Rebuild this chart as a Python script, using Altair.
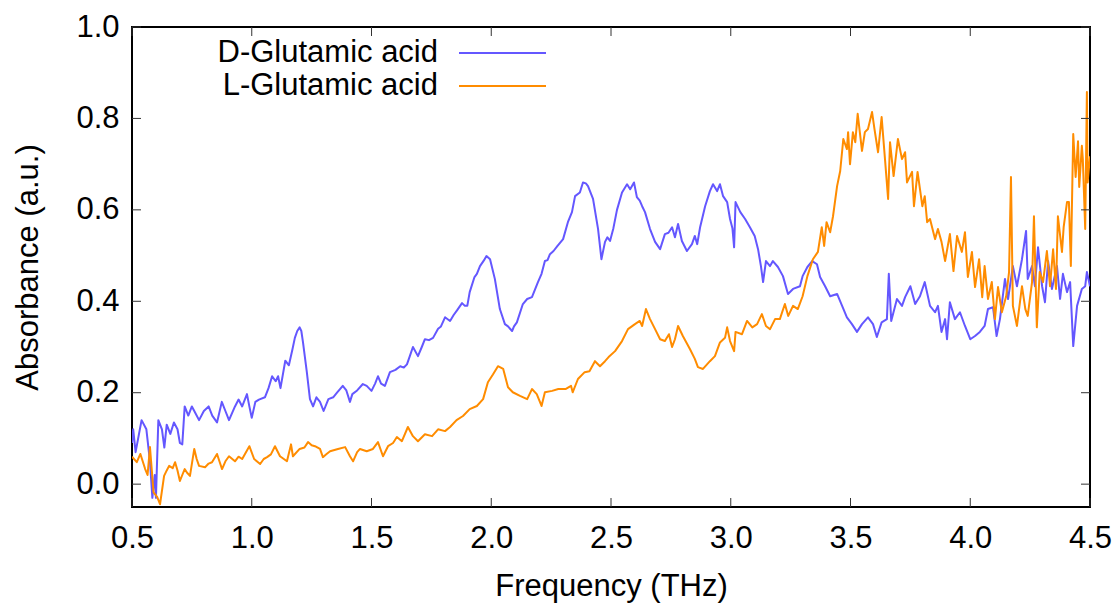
import altair as alt
import pandas as pd

# D-Glutamic acid absorbance spectrum
d_freq = [0.50, 0.505, 0.515, 0.54, 0.56, 0.575, 0.585, 0.595, 0.60, 0.61, 0.625, 0.635, 0.645, 0.66,
          0.675, 0.69, 0.70, 0.71, 0.72, 0.735, 0.75, 0.765, 0.78, 0.80, 0.82, 0.835, 0.855, 0.875, 0.89,
          0.905, 0.93, 0.945, 0.96, 0.98, 0.99, 1.00, 1.015, 1.03, 1.055, 1.07, 1.085, 1.10, 1.11, 1.12,
          1.14, 1.155, 1.17, 1.18, 1.19, 1.20, 1.207, 1.214, 1.23, 1.243, 1.256, 1.27, 1.285, 1.30, 1.32,
          1.34, 1.356, 1.38, 1.395, 1.41, 1.42, 1.44, 1.464, 1.48, 1.50, 1.515, 1.527, 1.54, 1.556, 1.577,
          1.60, 1.62, 1.635, 1.648, 1.66, 1.673, 1.694, 1.71, 1.723, 1.74, 1.757, 1.778, 1.79, 1.807,
          1.828, 1.843, 1.857, 1.878, 1.89, 1.90, 1.91, 1.93, 1.94, 1.953, 1.97, 1.98, 1.995, 2.015,
          2.036, 2.057, 2.07, 2.087, 2.095, 2.107, 2.132, 2.15, 2.17, 2.195, 2.21, 2.224, 2.235, 2.245,
          2.26, 2.275, 2.30, 2.32, 2.337, 2.35, 2.37, 2.383, 2.395, 2.404, 2.425, 2.446, 2.46, 2.475,
          2.485, 2.496, 2.51, 2.525, 2.546, 2.567, 2.58, 2.596, 2.608, 2.62, 2.63, 2.642, 2.663, 2.684,
          2.705, 2.725, 2.74, 2.755, 2.767, 2.78, 2.796, 2.817, 2.838, 2.85, 2.86, 2.872, 2.893, 2.913,
          2.926, 2.943, 2.955, 2.968, 2.985, 2.997, 3.007, 3.014, 3.02, 3.04, 3.06, 3.08, 3.10, 3.114,
          3.126, 3.135, 3.147, 3.164, 3.176, 3.197, 3.218, 3.239, 3.26, 3.289, 3.30, 3.32, 3.34, 3.36,
          3.373, 3.394, 3.415, 3.444, 3.465, 3.485, 3.506, 3.527, 3.548, 3.573, 3.594, 3.61, 3.63, 3.652,
          3.66, 3.67, 3.694, 3.715, 3.728, 3.75, 3.77, 3.79, 3.81, 3.832, 3.853, 3.865, 3.88, 3.895,
          3.903, 3.915, 3.936, 3.957, 3.978, 4.00, 4.02, 4.04, 4.06, 4.074, 4.095, 4.11, 4.124, 4.145,
          4.158, 4.178, 4.195, 4.216, 4.233, 4.24, 4.258, 4.27, 4.283, 4.30, 4.312, 4.325, 4.341, 4.362,
          4.375, 4.387, 4.404, 4.417, 4.43, 4.446, 4.466, 4.48, 4.487, 4.50]
d_abs = [0.09, 0.12, 0.07, 0.14, 0.12, 0.05, -0.03, 0.02, -0.03, 0.14, 0.12, 0.08, 0.13, 0.11,
         0.135, 0.12, 0.09, 0.087, 0.17, 0.15, 0.17, 0.155, 0.14, 0.16, 0.17, 0.15, 0.135, 0.18, 0.16,
         0.14, 0.17, 0.185, 0.17, 0.197, 0.17, 0.145, 0.18, 0.185, 0.19, 0.21, 0.236, 0.225, 0.236, 0.21,
         0.27, 0.26, 0.295, 0.32, 0.335, 0.343, 0.335, 0.31, 0.245, 0.186, 0.17, 0.19, 0.18, 0.16, 0.186,
         0.19, 0.20, 0.215, 0.205, 0.18, 0.197, 0.205, 0.219, 0.215, 0.204, 0.22, 0.236, 0.22, 0.215, 0.245,
         0.25, 0.258, 0.255, 0.262, 0.28, 0.30, 0.28, 0.30, 0.317, 0.315, 0.32, 0.34, 0.345, 0.365,
         0.357, 0.37, 0.38, 0.396, 0.39, 0.39, 0.42, 0.453, 0.46, 0.477, 0.49, 0.499, 0.492, 0.449,
         0.383, 0.35, 0.345, 0.335, 0.345, 0.354, 0.394, 0.405, 0.409, 0.442, 0.46, 0.488, 0.49, 0.503,
         0.51, 0.52, 0.536, 0.573, 0.595, 0.63, 0.638, 0.66, 0.658, 0.652, 0.624, 0.558, 0.492, 0.53,
         0.54, 0.532, 0.56, 0.60, 0.638, 0.656, 0.645, 0.66, 0.628, 0.62, 0.608, 0.595, 0.558, 0.53,
         0.514, 0.547, 0.55, 0.562, 0.54, 0.569, 0.532, 0.51, 0.525, 0.543, 0.525, 0.562, 0.608, 0.641,
         0.656, 0.641, 0.656, 0.63, 0.617, 0.58, 0.56, 0.518, 0.617, 0.595, 0.58, 0.562, 0.543, 0.514,
         0.477, 0.442, 0.488, 0.477, 0.488, 0.475, 0.455, 0.416, 0.427, 0.433, 0.455, 0.475, 0.488, 0.481,
         0.453, 0.433, 0.411, 0.416, 0.39, 0.365, 0.35, 0.333, 0.35, 0.365, 0.35, 0.322, 0.354, 0.361,
         0.46, 0.357, 0.405, 0.39, 0.409, 0.433, 0.394, 0.411, 0.442, 0.39, 0.376, 0.39, 0.333, 0.361,
         0.317, 0.398, 0.361, 0.376, 0.346, 0.317, 0.324, 0.333, 0.346, 0.383, 0.387, 0.324, 0.361, 0.449,
         0.405, 0.477, 0.433, 0.492, 0.554, 0.449, 0.477, 0.433, 0.518, 0.433, 0.398, 0.488, 0.427, 0.477,
         0.405, 0.46, 0.42, 0.442, 0.302, 0.39, 0.427, 0.433, 0.464, 0.433]

# L-Glutamic acid absorbance spectrum
l_freq = [0.50, 0.52, 0.535, 0.555, 0.565, 0.575, 0.59, 0.605, 0.617, 0.634, 0.645, 0.655, 0.67, 0.68,
          0.69, 0.70, 0.71, 0.72, 0.73, 0.742, 0.76, 0.77, 0.78, 0.805, 0.82, 0.834, 0.855, 0.865, 0.876,
          0.89, 0.905, 0.93, 0.945, 0.96, 0.99, 1.01, 1.035, 1.05, 1.064, 1.08, 1.097, 1.118, 1.147, 1.164,
          1.172, 1.20, 1.22, 1.235, 1.25, 1.264, 1.285, 1.297, 1.31, 1.327, 1.36, 1.39, 1.41, 1.423, 1.44,
          1.452, 1.48, 1.506, 1.527, 1.548, 1.569, 1.59, 1.606, 1.627, 1.652, 1.673, 1.694, 1.723, 1.753,
          1.778, 1.807, 1.828, 1.855, 1.882, 1.91, 1.94, 1.966, 1.986, 2.007, 2.028, 2.05, 2.07, 2.09,
          2.12, 2.15, 2.17, 2.19, 2.21, 2.224, 2.254, 2.28, 2.31, 2.333, 2.34, 2.362, 2.39, 2.41, 2.433,
          2.454, 2.475, 2.49, 2.517, 2.546, 2.571, 2.60, 2.62, 2.63, 2.646, 2.663, 2.684, 2.705, 2.725,
          2.742, 2.755, 2.767, 2.78, 2.80, 2.83, 2.85, 2.863, 2.884, 2.913, 2.934, 2.955, 2.976, 2.985,
          2.997, 3.014, 3.02, 3.047, 3.068, 3.09, 3.11, 3.13, 3.147, 3.164, 3.185, 3.205, 3.226, 3.24,
          3.26, 3.28, 3.30, 3.32, 3.343, 3.364, 3.38, 3.39, 3.40, 3.415, 3.427, 3.444, 3.457, 3.47, 3.485,
          3.49, 3.498, 3.51, 3.52, 3.53, 3.548, 3.56, 3.573, 3.59, 3.60, 3.615, 3.63, 3.644, 3.657, 3.665,
          3.68, 3.698, 3.715, 3.728, 3.736, 3.757, 3.765, 3.78, 3.80, 3.81, 3.82, 3.832, 3.853, 3.865,
          3.88, 3.895, 3.915, 3.93, 3.945, 3.965, 3.978, 3.99, 4.007, 4.02, 4.037, 4.05, 4.06, 4.074,
          4.09, 4.103, 4.116, 4.132, 4.15, 4.162, 4.17, 4.178, 4.195, 4.216, 4.23, 4.24, 4.258, 4.266,
          4.278, 4.29, 4.304, 4.32, 4.333, 4.346, 4.358, 4.366, 4.383, 4.39, 4.404, 4.412, 4.42, 4.43,
          4.44, 4.45, 4.455, 4.466, 4.47, 4.48, 4.487, 4.49, 4.50]
l_abs = [0.06, 0.048, 0.066, 0.033, 0.02, 0.081, -0.018, -0.028, -0.044, 0.018, 0.03, 0.04, 0.035, 0.048,
         0.03, 0.007, 0.02, 0.033, 0.025, 0.018, 0.077, 0.055, 0.04, 0.037, 0.045, 0.048, 0.066, 0.05, 0.033,
         0.05, 0.061, 0.05, 0.06, 0.055, 0.083, 0.055, 0.044, 0.055, 0.059, 0.065, 0.083, 0.061, 0.05, 0.087,
         0.061, 0.077, 0.08, 0.092, 0.085, 0.083, 0.077, 0.059, 0.065, 0.072, 0.077, 0.081, 0.061, 0.05, 0.07,
         0.077, 0.072, 0.077, 0.092, 0.061, 0.083, 0.09, 0.103, 0.094, 0.125, 0.105, 0.094, 0.109, 0.105,
         0.12, 0.116, 0.125, 0.14, 0.149, 0.164, 0.171, 0.186, 0.223, 0.24, 0.258, 0.252, 0.212, 0.201,
         0.193, 0.186, 0.208, 0.197, 0.171, 0.201, 0.204, 0.208, 0.208, 0.215, 0.201, 0.23, 0.245, 0.247, 0.269,
         0.258, 0.269, 0.278, 0.291, 0.313, 0.339, 0.35, 0.357, 0.346, 0.383, 0.361, 0.339, 0.317, 0.313,
         0.328, 0.30, 0.317, 0.346, 0.324, 0.295, 0.274, 0.256, 0.252, 0.269, 0.28, 0.31, 0.32, 0.343,
         0.313, 0.291, 0.333, 0.328, 0.357, 0.343, 0.35, 0.372, 0.346, 0.339, 0.361, 0.361, 0.394, 0.368,
         0.39, 0.383, 0.411, 0.455, 0.492, 0.508, 0.562, 0.521, 0.573, 0.551, 0.586, 0.652, 0.685, 0.755, 0.733,
         0.77, 0.70, 0.77, 0.748, 0.81, 0.729, 0.77, 0.777, 0.814, 0.777, 0.726, 0.803, 0.711, 0.624, 0.748,
         0.674, 0.755, 0.711, 0.726, 0.66, 0.683, 0.608, 0.683, 0.608, 0.63, 0.573, 0.58, 0.536, 0.558,
         0.53, 0.488, 0.547, 0.466, 0.543, 0.508, 0.551, 0.453, 0.508, 0.431, 0.492, 0.409, 0.477, 0.405,
         0.442, 0.361, 0.431, 0.376, 0.411, 0.464, 0.672, 0.39, 0.346, 0.433, 0.383, 0.368, 0.442, 0.586,
         0.343, 0.464, 0.442, 0.51, 0.433, 0.514, 0.427, 0.586, 0.508, 0.562, 0.617, 0.617, 0.477, 0.766,
         0.672, 0.75, 0.65, 0.74, 0.711, 0.558, 0.858, 0.66, 0.717]

series_names = ["D-Glutamic acid", "L-Glutamic acid"]
series_colors = ["#6457ff", "#ff8c00"]
x_ticks = [0.5, 1.0, 1.5, 2.0, 2.5, 3.0, 3.5, 4.0, 4.5]
y_ticks = [0.0, 0.2, 0.4, 0.6, 0.8, 1.0]

W, H = 958, 480
FONT = "Liberation Sans"
FS = 31

x_scale = alt.Scale(domain=[0.5, 4.5], nice=False, zero=False)
y_scale = alt.Scale(domain=[-0.05, 1.0], nice=False, zero=False)

df_d = pd.DataFrame({"freq": d_freq, "absorb": d_abs})
df_l = pd.DataFrame({"freq": l_freq, "absorb": l_abs})

x_axis = alt.Axis(values=x_ticks, format=".1f", tickSize=0, domain=False, grid=False,
                  labelFlush=False, labelOverlap=False, labelBound=False,
                  labelFontSize=FS, labelFont=FONT, labelColor="black", labelPadding=16,
                  title="Frequency (THz)", titleFontSize=FS, titleFont=FONT, titleFontWeight="normal",
                  titleColor="black", titleY=79, titleBaseline="middle")
y_axis = alt.Axis(values=y_ticks, format=".1f", tickSize=0, domain=False, grid=False,
                  labelFlush=False, labelOverlap=False, labelBound=False,
                  labelFontSize=FS, labelFont=FONT, labelColor="black", labelPadding=13,
                  title="Absorbance (a.u.)", titleFontSize=FS, titleFont=FONT, titleFontWeight="normal",
                  titleColor="black", titleX=-104, titleY=H / 2, titleBaseline="middle")


def xenc(field):
    return alt.X(field, type="quantitative", scale=x_scale, axis=x_axis)


def yenc(field):
    return alt.Y(field, type="quantitative", scale=y_scale, axis=y_axis)


def spectrum(df, color):
    return alt.Chart(df).mark_line(color=color, strokeWidth=2, clip=True,
                                   strokeJoin="round").encode(x=xenc("freq"), y=yenc("absorb"))


line_d = spectrum(df_d, series_colors[0])
line_l = spectrum(df_l, series_colors[1])

# inward tick marks on all four sides
xt = pd.DataFrame({"freq": x_ticks})
yt = pd.DataFrame({"absorb": y_ticks})
tick_style = dict(color="#333333", strokeWidth=1)
ticks_bottom = alt.Chart(xt).mark_rule(**tick_style).encode(
    x=xenc("freq"), y=alt.value(H), y2=alt.value(H - 9))
ticks_top = alt.Chart(xt).mark_rule(**tick_style).encode(
    x=xenc("freq"), y=alt.value(0), y2=alt.value(9))
ticks_left = alt.Chart(yt).mark_rule(**tick_style).encode(
    y=yenc("absorb"), x=alt.value(0), x2=alt.value(9))
ticks_right = alt.Chart(yt).mark_rule(**tick_style).encode(
    y=yenc("absorb"), x=alt.value(W), x2=alt.value(W - 9))

# key in the upper left: label followed by a line sample
key_rows = [26, 59]
key_layers = []
for name, color, ky in zip(series_names, series_colors, key_rows):
    one = pd.DataFrame({"name": [name]})
    key_layers.append(
        alt.Chart(one).mark_text(align="right", baseline="middle", font=FONT, fontSize=FS,
                                 color="black").encode(text="name:N", x=alt.value(306), y=alt.value(ky)))
    key_layers.append(
        alt.Chart(one).mark_rule(color=color, strokeWidth=2).encode(
            x=alt.value(327), x2=alt.value(414), y=alt.value(ky)))

chart = alt.layer(line_d, line_l, ticks_bottom, ticks_top, ticks_left, ticks_right,
                  *key_layers).properties(
    width=W, height=H,
    background="white",
    autosize=alt.AutoSizeParams(type="none"),
    padding={"left": 132, "top": 27, "right": 25, "bottom": 97},
).configure_view(stroke="black", strokeWidth=2)

chart.save("out.html", embed_options={"renderer": "svg", "actions": False})
